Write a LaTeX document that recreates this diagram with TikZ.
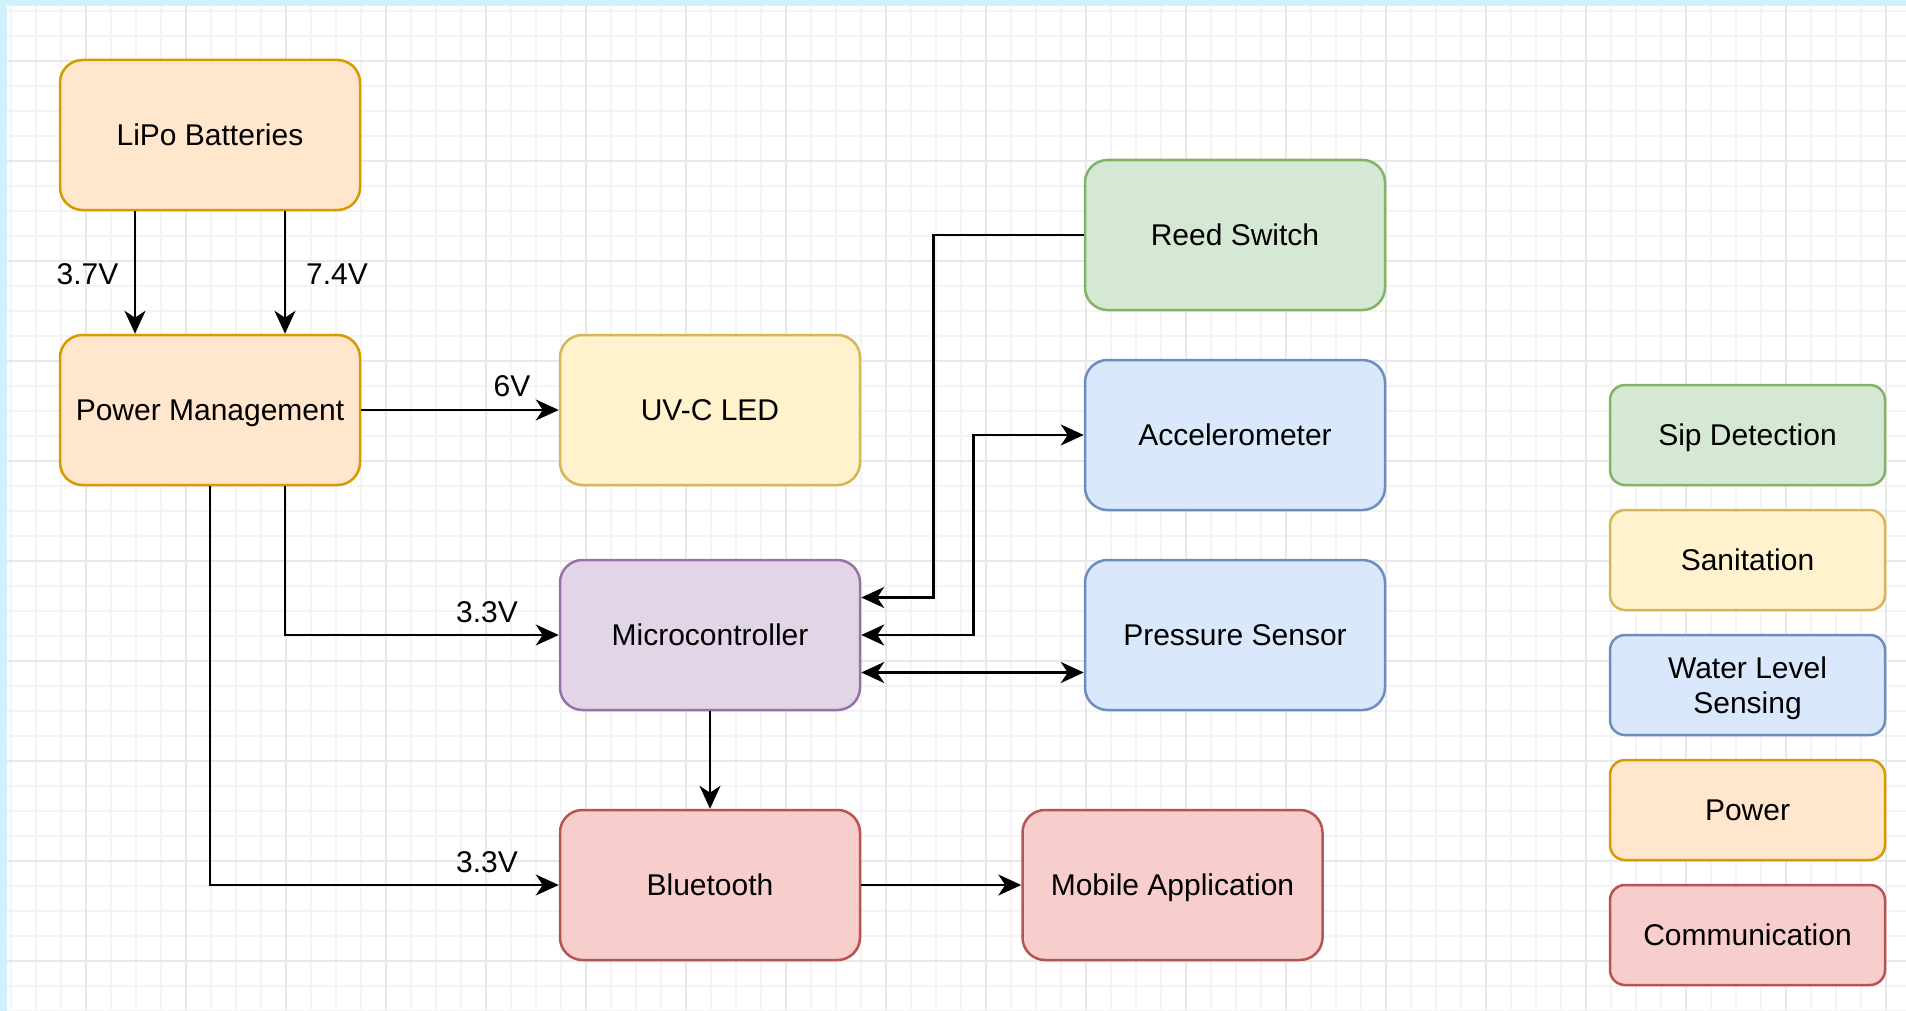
\documentclass[tikz,border=0pt]{standalone}
\usepackage{fontspec}
\setmainfont{Liberation Sans}
\usetikzlibrary{arrows.meta,calc}
\definecolor{orfill}{HTML}{FFE6CC}
\definecolor{orline}{HTML}{D79B00}
\definecolor{yefill}{HTML}{FFF2CC}
\definecolor{yeline}{HTML}{D6B656}
\definecolor{grfill}{HTML}{D5E8D4}
\definecolor{grline}{HTML}{82B366}
\definecolor{blfill}{HTML}{DAE8FC}
\definecolor{blline}{HTML}{6C8EBF}
\definecolor{pufill}{HTML}{E1D5E7}
\definecolor{puline}{HTML}{9673A6}
\definecolor{refill}{HTML}{F8CECC}
\definecolor{reline}{HTML}{B85450}
\definecolor{band}{HTML}{CFF1FE}
\definecolor{gridminor}{HTML}{F4F4F4}
\definecolor{gridmajor}{HTML}{E8E8E8}
\tikzset{
  box/.style={draw, rounded corners=11.25pt, line width=1.25pt, minimum width=150pt,
    minimum height=75pt, align=center, inner sep=0pt, text height=10.7pt, text depth=0pt,
    font=\fontsize{15}{17.5}\selectfont},
  legbox/.style={box, rounded corners=7.5pt, minimum width=137.5pt, minimum height=50pt},
  twoline/.style={text height=28.2pt, text depth=0pt},
  orbox/.style={fill=orfill, draw=orline},
  yebox/.style={fill=yefill, draw=yeline},
  grbox/.style={fill=grfill, draw=grline},
  blbox/.style={fill=blfill, draw=blline},
  pubox/.style={fill=pufill, draw=puline},
  rebox/.style={fill=refill, draw=reline},
  conn/.style={line width=1.3pt, -{Stealth[length=11.5pt,width=10.5pt,inset=3.5pt]}},
  bconn/.style={line width=1.3pt, {Stealth[length=11.5pt,width=10.5pt,inset=3.5pt]}-{Stealth[length=11.5pt,width=10.5pt,inset=3.5pt]}},
  lab/.style={inner sep=0pt, font=\fontsize{15}{17.5}\selectfont},
}
\begin{document}
\begin{tikzpicture}[x=0.5pt, y=-0.5pt]
\useasboundingbox (0,0) rectangle (1906,1011);
\fill[white] (0,0) rectangle (1906,1011);
% grid
\foreach \k in {0,...,75} { \draw[gridminor, line width=0.6pt] ({11+25*\k},6) -- ({11+25*\k},1011); }
\foreach \k in {0,...,40} { \draw[gridminor, line width=0.6pt] (7,{11+25*\k}) -- (1906,{11+25*\k}); }
\foreach \k in {0,...,18} { \draw[gridmajor, line width=0.8pt] ({86+100*\k},6) -- ({86+100*\k},1011); }
\foreach \k in {0,...,9} { \draw[gridmajor, line width=0.8pt] (7,{61+100*\k}) -- (1906,{61+100*\k}); }
% frame bands
\fill[band] (0,0) rectangle (1906,6);
\fill[band] (0,0) rectangle (7,1011);

% nodes
\node[box, orbox] (lipo) at (210,135) {LiPo Batteries};
\node[box, orbox] (pm) at (210,410) {Power Management};
\node[box, yebox] (uv) at (710,410) {UV-C LED};
\node[box, grbox] (reed) at (1235,235) {Reed Switch};
\node[box, blbox] (acc) at (1235,435) {Accelerometer};
\node[box, blbox] (ps) at (1235,635) {Pressure Sensor};
\node[box, pubox] (mcu) at (710,635) {Microcontroller};
\node[box, rebox] (bt) at (710,885) {Bluetooth};
\node[box, rebox] (app) at (1172.5,885) {Mobile Application};

% legend
\node[legbox, grbox] (lsip) at (1747.5,435) {Sip Detection};
\node[legbox, yebox] (lsan) at (1747.5,560) {Sanitation};
\node[legbox, blbox, twoline] (lwat) at (1747.5,685) {Water Level\\Sensing};
\node[legbox, orbox] (lpow) at (1747.5,810) {Power};
\node[legbox, rebox] (lcom) at (1747.5,935) {Communication};

% connectors
\draw[conn] ([xshift=-37.5pt]lipo.south) -- ([xshift=-37.5pt]pm.north);
\draw[conn] ([xshift=37.5pt]lipo.south) -- ([xshift=37.5pt]pm.north);
\draw[conn] (pm.east) -- (uv.west);
\draw[conn] ([xshift=37.5pt]pm.south) |- (mcu.west);
\draw[conn] (pm.south) |- (bt.west);
\draw[conn] (mcu.south) -- (bt.north);
\draw[conn] (bt.east) -- (app.west);
\draw[conn] (reed.west) -- ++(-150,0) |- ([yshift=18.75pt]mcu.east);
\draw[bconn] (mcu.east) -- ++(112.5,0) |- (acc.west);
\draw[bconn] ([yshift=-18.75pt]mcu.east) -- ([yshift=-18.75pt]ps.west);

% labels
\node[lab] (l37) at (87.5,274) {3.7V};
\node[lab] (l74) at (337,274) {7.4V};
\node[lab] (l6) at (512,386) {6V};
\node[lab] (l33a) at (487,612) {3.3V};
\node[lab] (l33b) at (487,862) {3.3V};
\end{tikzpicture}
\end{document}
